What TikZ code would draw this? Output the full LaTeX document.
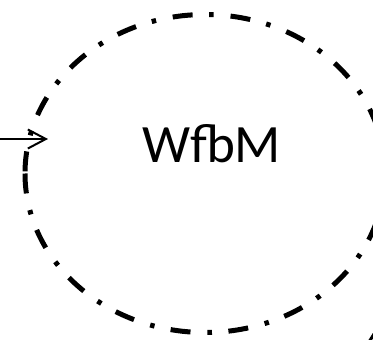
\documentclass[tikz,border=0pt]{standalone}
\usepackage{fontspec}
\setmainfont{Carlito}
\usetikzlibrary{shapes.geometric,arrows.meta}
\tikzset{
  ringshape/.style={ellipse, inner sep=0pt, outer sep=0pt,
    minimum width=360pt, minimum height=318pt},
  dashring/.style={line width=5pt,
    dash pattern=on 20pt off 17pt on 4.5pt off 16.5pt},
  feed/.style={line width=2pt, -{Straight Barb[length=18pt,width=19pt,line width=2pt]}},
  label/.style={font=\fontsize{54}{60}\selectfont, inner sep=0pt}
}
\begin{document}
\begin{tikzpicture}[x=1pt,y=-1pt]
\clip (0,0) rectangle (373,340);
\useasboundingbox (0,0) rectangle (373,340);
\node[ringshape] (ring) at (205,173.5) {};
\draw[dashring] (ring.west) arc[start angle=180, end angle=540, x radius=180pt, y radius=159pt];
\node[label, anchor=base] (txt) at (211.5,162) {WfbM};
\coordinate (src) at (-2,139);
\coordinate (tip) at (48,139);
\draw[feed] (src) -- (tip);
\coordinate (m1) at (369,342);
\coordinate (m2) at (374,334);
\draw[line width=3pt] (m1) -- (m2);
\end{tikzpicture}
\end{document}
